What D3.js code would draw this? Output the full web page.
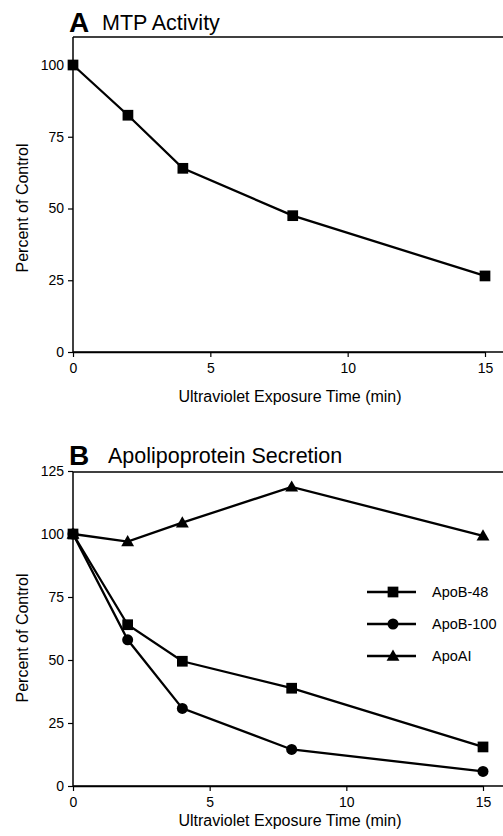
<!DOCTYPE html>
<html><head><meta charset="utf-8">
<script src="https://cdn.jsdelivr.net/npm/d3@7"></script>
<style>body{margin:0;background:#fff}svg{display:block}text{font-family:"Liberation Sans",Arial,sans-serif;fill:#000}</style>
</head><body>
<script>
const times = [0, 2, 4, 8, 15];
const mtpActivity = [100, 82.5, 64, 47.5, 26.5];
const apoB48 = [100, 64, 49.5, 38.8, 15.5];
const apoB100 = [100, 58, 30.8, 14.5, 5.8];
const apoAI = [100, 97, 104.5, 118.7, 99.3];
const xTicks = [0, 5, 10, 15];
const yTicksA = [0, 25, 50, 75, 100];
const yTicksB = [0, 25, 50, 75, 100, 125];
const seriesNamesB = ["ApoB-48", "ApoB-100", "ApoAI"];

const W = 503, H = 836;
const FONT = '"Liberation Sans",Arial,sans-serif';
const svg = d3.select("body").append("svg").attr("width", W).attr("height", H);

function symbolFor(kind) {
  if (kind === "square") return d3.symbol().type(d3.symbolSquare).size(115)();
  if (kind === "circle") return d3.symbol().type(d3.symbolCircle).size(95)();
  return d3.symbol().type(d3.symbolTriangle).size(72)();
}

function panel(cfg) {
  const g = svg.append("g");
  const x = d3.scaleLinear().domain([0, 15]).range([73, cfg.x15]);
  const y = d3.scaleLinear().domain([0, cfg.ymax]).range([cfg.y0, cfg.ytop]);
  g.append("line").attr("x1", 73).attr("x2", W).attr("y1", cfg.frameTop).attr("y2", cfg.frameTop).attr("stroke", "#000").attr("stroke-width", 1.5);
  g.append("line").attr("x1", 73).attr("x2", W).attr("y1", cfg.y0).attr("y2", cfg.y0).attr("stroke", "#000").attr("stroke-width", 1.5);
  const xa = g.append("g").attr("transform", `translate(0,${cfg.y0})`)
    .call(d3.axisBottom(x).tickValues(xTicks).tickSize(5).tickPadding(6).tickSizeOuter(0));
  const ya = g.append("g").attr("transform", `translate(73,0)`)
    .call(d3.axisLeft(y).tickValues(cfg.yTicks).tickSize(5).tickPadding(4).tickSizeOuter(0));
  [xa, ya].forEach(a => {
    a.select(".domain").attr("stroke-width", 1.5);
    a.selectAll("text").style("font-family", FONT).style("font-size", "14px");
    a.selectAll(".tick line").attr("stroke-width", 1.2);
  });
  ya.select(".domain").attr("d", `M0,${cfg.frameTop}V${cfg.y0}`);
  g.append("text").attr("x", 69).attr("y", cfg.titleY + 1).style("font-size", "28px").style("font-weight", "bold").text(cfg.letter);
  g.append("text").attr("x", cfg.titleX).attr("y", cfg.titleY - 1).style("font-size", "21.5px").text(cfg.title);
  g.append("text").attr("text-anchor", "middle").attr("x", 290).attr("y", cfg.xlabY).style("font-size", "16px").text("Ultraviolet Exposure Time (min)");
  g.append("text").attr("text-anchor", "middle").attr("transform", `translate(28,${cfg.ylabC}) rotate(-90)`).style("font-size", "16px").text("Percent of Control");
  const line = d3.line().x((d, i) => x(times[i])).y(d => y(d));
  cfg.series.forEach(s => {
    g.append("path").attr("d", line(s.values)).attr("fill", "none").attr("stroke", "#000").attr("stroke-width", 2.3);
    g.selectAll(null).data(s.values).enter().append("path")
      .attr("d", symbolFor(s.kind))
      .attr("transform", (d, i) => `translate(${x(times[i])},${y(d) + (s.kind === "triangle" ? 1 : 0)})`)
      .attr("fill", "#000");
  });
  return {g, x, y};
}

panel({x15: 485, ymax: 100, y0: 352, ytop: 65, frameTop: 37, yTicks: yTicksA,
  letter: "A", title: "MTP Activity", titleX: 102, titleY: 31, xlabY: 402, ylabC: 208,
  series: [{values: mtpActivity, kind: "square"}]});

panel({x15: 483, ymax: 125, y0: 786, ytop: 471, frameTop: 472, yTicks: yTicksB,
  letter: "B", title: "Apolipoprotein Secretion", titleX: 108, titleY: 464, xlabY: 826, ylabC: 638,
  series: [{values: apoAI, kind: "triangle"}, {values: apoB48, kind: "square"}, {values: apoB100, kind: "circle"}]});

const kinds = ["square", "circle", "triangle"];
const leg = svg.append("g");
seriesNamesB.forEach((name, i) => {
  const yy = 592 + i * 32;
  leg.append("line").attr("x1", 367).attr("x2", 416).attr("y1", yy).attr("y2", yy).attr("stroke", "#000").attr("stroke-width", 2.3);
  leg.append("path").attr("d", symbolFor(kinds[i])).attr("transform", `translate(393,${yy + (kinds[i] === "triangle" ? 1 : 0)})`).attr("fill", "#000");
  leg.append("text").attr("x", 432).attr("y", yy + 5).style("font-size", "14.5px").text(name);
});
</script>
</body></html>
